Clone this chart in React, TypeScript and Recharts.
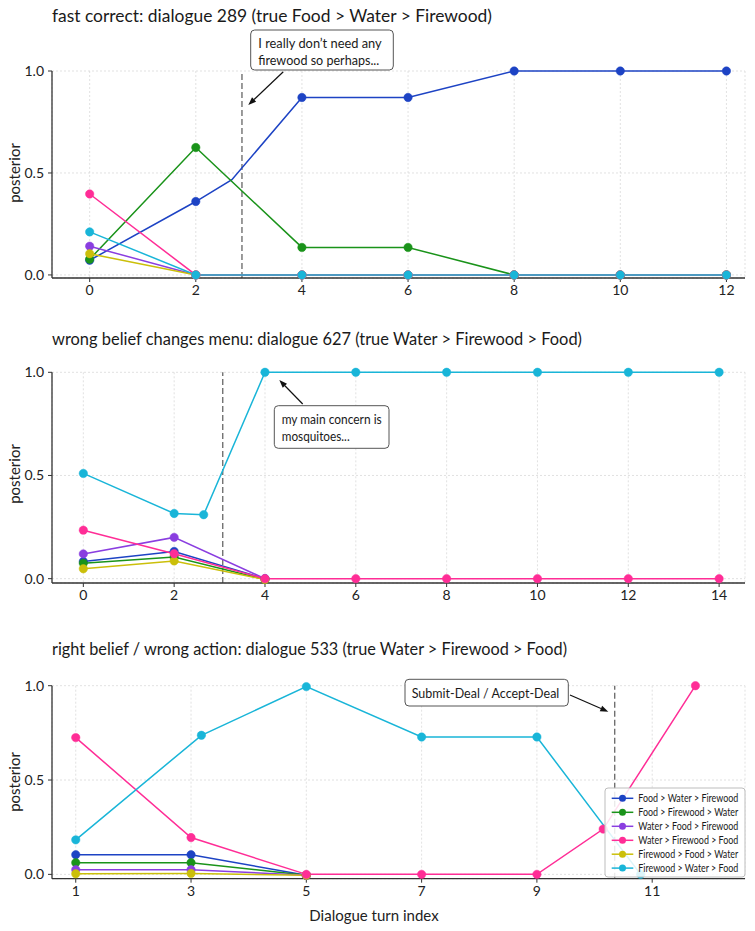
import React from 'react';
import { LineChart, Line, XAxis, YAxis, CartesianGrid, ReferenceLine } from 'recharts';

// ---------- series names ----------
const SERIES_NAMES = [
  'Food > Water > Firewood',
  'Food > Firewood > Water',
  'Water > Food > Firewood',
  'Water > Firewood > Food',
  'Firewood > Food > Water',
  'Firewood > Water > Food',
];

// ---------- panel 1: dialogue 289 ----------
const p1FoodWaterFirewood = [[0, 0.072], [2, 0.36], [2.68, 0.467], [4, 0.87], [6, 0.87], [8, 1.0], [10, 1.0], [12, 1.0]];
const p1FoodFirewoodWater = [[0, 0.077], [2, 0.625], [4, 0.135], [6, 0.135], [8, 0.0], [10, 0.0], [12, 0.0]];
const p1WaterFoodFirewood = [[0, 0.141], [2, 0.0], [4, 0.0], [6, 0.0], [8, 0.0], [10, 0.0], [12, 0.0]];
const p1WaterFirewoodFood = [[0, 0.397], [2, 0.0], [4, 0.0], [6, 0.0], [8, 0.0], [10, 0.0], [12, 0.0]];
const p1FirewoodFoodWater = [[0, 0.104], [2, 0.0], [4, 0.0], [6, 0.0], [8, 0.0], [10, 0.0], [12, 0.0]];
const p1FirewoodWaterFood = [[0, 0.211], [2, 0.0], [4, 0.0], [6, 0.0], [8, 0.0], [10, 0.0], [12, 0.0]];
const p1Bends = [2.68];
const p1XTicks = [0, 2, 4, 6, 8, 10, 12];
const p1Marker = 2.87;

// ---------- panel 2: dialogue 627 ----------
const p2FoodWaterFirewood = [[0, 0.083], [2, 0.132], [4, 0.0]];
const p2FoodFirewoodWater = [[0, 0.075], [2, 0.105], [4, -0.004]];
const p2WaterFoodFirewood = [[0, 0.12], [2, 0.2], [4, 0.0]];
const p2WaterFirewoodFood = [[0, 0.235], [2, 0.121], [4, 0.0], [6, 0.0], [8, 0.0], [10, 0.0], [12, 0.0], [14, 0.0]];
const p2FirewoodFoodWater = [[0, 0.048], [2, 0.086], [4, -0.004]];
const p2FirewoodWaterFood = [[0, 0.51], [2, 0.316], [2.65, 0.31], [4, 1.0], [6, 1.0], [8, 1.0], [10, 1.0], [12, 1.0], [14, 1.0]];
const p2Bends: number[] = [];
const p2XTicks = [0, 2, 4, 6, 8, 10, 12, 14];
const p2Marker = 3.07;

// ---------- panel 3: dialogue 533 ----------
const p3FoodWaterFirewood = [[1, 0.104], [3, 0.104], [5, -0.005]];
const p3FoodFirewoodWater = [[1, 0.062], [3, 0.062], [5, -0.005]];
const p3WaterFoodFirewood = [[1, 0.025], [3, 0.025], [5, -0.005]];
const p3WaterFirewoodFood = [[1, 0.725], [3, 0.195], [5, 0.0], [7, 0.0], [9, 0.0], [10.15, 0.24], [11.75, 1.0]];
const p3FirewoodFoodWater = [[1, 0.003], [3, 0.005], [5, -0.005]];
const p3FirewoodWaterFood = [[1, 0.183], [3.18, 0.737], [5, 0.995], [7, 0.728], [9, 0.728], [10.8, 0.0]];
const p3Bends: number[] = [];
const p3XTicks = [1, 3, 5, 7, 9, 11];
const p3Marker = 10.35;

const Y_TICKS = [0, 0.5, 1.0];

const TITLES = [
  'fast correct: dialogue 289 (true Food > Water > Firewood)',
  'wrong belief changes menu: dialogue 627 (true Water > Firewood > Food)',
  'right belief / wrong action: dialogue 533 (true Water > Firewood > Food)',
];
const NOTE1 = ['I really don’t need any', 'firewood so perhaps...'];
const NOTE2 = ['my main concern is', 'mosquitoes...'];
const NOTE3 = 'Submit-Deal / Accept-Deal';

const COLORS = ['#1d43c4', '#1a931a', '#8a3ee0', '#ff2d96', '#cbbf0a', '#19b5d8'];
// drawing order: blue, green, purple, yellow, pink, cyan
const DRAW_ORDER = [0, 1, 2, 4, 3, 5];

const FONT = "Lato, 'Open Sans', 'Noto Sans', sans-serif";

const toRows = (pts: number[][]) => pts.map(([x, y]) => ({ x, y }));

const makeDot = (color: string, bends: number[]) => (props: any) => {
  const { cx, cy, payload, index } = props;
  if (cx == null || cy == null || bends.includes(payload.x)) return <g key={`b-${index}`} />;
  return <circle key={`d-${index}`} cx={cx} cy={cy} r={4.2} fill={color} stroke={color} strokeWidth={0.5} />;
};

type PanelProps = {
  top: number;
  height: number;
  marginTop: number;
  marginBottom: number;
  xDomain: [number, number];
  yDomain: [number, number];
  xTicks: number[];
  series: number[][][];
  bends: number[];
  marker: number;
};

const Panel = ({ top, height, marginTop, marginBottom, xDomain, yDomain, xTicks, series, bends, marker }: PanelProps) => (
  <div style={{ position: 'absolute', left: 0, top, width: 755, height }}>
    <LineChart width={755} height={height} margin={{ top: marginTop, right: 10, bottom: marginBottom, left: 0 }}>
      <CartesianGrid stroke="#d9d9d9" strokeDasharray="2 2" strokeWidth={0.8} />
      <XAxis
        dataKey="x"
        type="number"
        domain={xDomain}
        ticks={xTicks}
        height={25}
        tickSize={4}
        tickMargin={3}
        axisLine={{ stroke: '#333', strokeWidth: 1.3 }}
        tickLine={{ stroke: '#333' }}
        tick={{ fill: '#222', fontSize: 14, fontFamily: FONT }}
        interval={0}
      />
      <YAxis
        type="number"
        domain={yDomain}
        ticks={Y_TICKS}
        width={52}
        tickSize={4}
        tickMargin={4}
        axisLine={{ stroke: '#333', strokeWidth: 1.3 }}
        tickLine={{ stroke: '#333' }}
        tick={{ fill: '#222', fontSize: 14, fontFamily: FONT }}
        tickFormatter={(v: number) => v.toFixed(1)}
        interval={0}
      />
      <ReferenceLine x={marker} stroke="#666" strokeDasharray="6 3" strokeWidth={1.3} />
      {DRAW_ORDER.map((i) => (
        <Line
          key={SERIES_NAMES[i]}
          data={toRows(series[i])}
          dataKey="y"
          name={SERIES_NAMES[i]}
          type="linear"
          stroke={COLORS[i]}
          strokeWidth={1.5}
          dot={makeDot(COLORS[i], bends)}
          activeDot={false}
          isAnimationActive={false}
        />
      ))}
    </LineChart>
  </div>
);

const yLabelStyle = (cy: number): React.CSSProperties => ({
  position: 'absolute',
  left: 14,
  top: cy,
  transform: 'translate(-50%, -50%) rotate(-90deg)',
  fontFamily: FONT,
  fontSize: 15,
  color: '#222',
  whiteSpace: 'nowrap',
});

const FitText = ({ x, y, w, size, children }: { x: number; y: number; w: number; size: number; children: string }) => (
  <text x={x} y={y} dominantBaseline="central" fontFamily={FONT} fontSize={size} fill="#1a1a1a" textLength={w} lengthAdjust="spacingAndGlyphs">
    {children}
  </text>
);

const Arrow = ({ x1, y1, x2, y2 }: { x1: number; y1: number; x2: number; y2: number }) => {
  const a = Math.atan2(y2 - y1, x2 - x1);
  const L = 8;
  const W = 3;
  const bx = x2 - L * Math.cos(a);
  const by = y2 - L * Math.sin(a);
  const px = -Math.sin(a) * W;
  const py = Math.cos(a) * W;
  return (
    <g>
      <line x1={x1} y1={y1} x2={bx} y2={by} stroke="#111" strokeWidth={1.2} />
      <polygon points={`${x2},${y2} ${bx + px},${by + py} ${bx - px},${by - py}`} fill="#111" />
    </g>
  );
};

export default function App() {
  const p1 = [p1FoodWaterFirewood, p1FoodFirewoodWater, p1WaterFoodFirewood, p1WaterFirewoodFood, p1FirewoodFoodWater, p1FirewoodWaterFood];
  const p2 = [p2FoodWaterFirewood, p2FoodFirewoodWater, p2WaterFoodFirewood, p2WaterFirewoodFood, p2FirewoodFoodWater, p2FirewoodWaterFood];
  const p3 = [p3FoodWaterFirewood, p3FoodFirewoodWater, p3WaterFoodFirewood, p3WaterFirewoodFood, p3FirewoodFoodWater, p3FirewoodWaterFood];
  const legendRows = [798.3, 812.3, 826.3, 840.3, 854.2, 868.1];
  return (
    <div style={{ position: 'absolute', left: 0, top: 0, width: 755, height: 931, background: '#fff', overflow: 'hidden' }}>
      <Panel top={0} height={305} marginTop={71} marginBottom={2} xDomain={[-0.71, 12.35]} yDomain={[-0.015, 1]} xTicks={p1XTicks} series={p1} bends={p1Bends} marker={p1Marker} />
      <Panel top={305} height={310} marginTop={67.3} marginBottom={7} xDomain={[-0.69, 14.57]} yDomain={[-0.021, 1]} xTicks={p2XTicks} series={p2} bends={p2Bends} marker={p2Marker} />
      <Panel top={615} height={316} marginTop={70.7} marginBottom={27.3} xDomain={[0.588, 12.61]} yDomain={[-0.023, 1]} xTicks={p3XTicks} series={p3} bends={p3Bends} marker={p3Marker} />

      <div style={yLabelStyle(172.5)}>posterior</div>
      <div style={yLabelStyle(474)}>posterior</div>
      <div style={yLabelStyle(782)}>posterior</div>

      <div style={{ position: 'absolute', left: 374, top: 915, transform: 'translate(-50%, -50%)', fontFamily: FONT, fontSize: 15, color: '#222', whiteSpace: 'nowrap' }}>
        Dialogue turn index
      </div>

      <svg width={755} height={931} style={{ position: 'absolute', left: 0, top: 0, pointerEvents: 'none' }}>
        {/* titles */}
        <FitText x={52} y={15} w={440} size={17.5}>{TITLES[0]}</FitText>
        <FitText x={52} y={338} w={530} size={17.5}>{TITLES[1]}</FitText>
        <FitText x={52} y={648} w={515} size={17.5}>{TITLES[2]}</FitText>

        {/* panel 1 annotation */}
        <rect x={250.7} y={30} width={142.6} height={40} rx={4} fill="#fff" stroke="#555" strokeWidth={1} />
        <FitText x={258.3} y={43.3} w={123.4} size={13}>{NOTE1[0]}</FitText>
        <FitText x={258.3} y={60} w={121} size={13}>{NOTE1[1]}</FitText>
        <Arrow x1={283.3} y1={71.7} x2={248.3} y2={105} />

        {/* panel 2 annotation */}
        <rect x={274.3} y={405.7} width={114.7} height={42.6} rx={4} fill="#fff" stroke="#555" strokeWidth={1} />
        <FitText x={281.7} y={419.3} w={100} size={12.5}>{NOTE2[0]}</FitText>
        <FitText x={281.7} y={436.7} w={68} size={12.5}>{NOTE2[1]}</FitText>
        <Arrow x1={302.7} y1={404} x2={279.3} y2={380} />

        {/* panel 3 annotation */}
        <rect x={405} y={679.3} width={163.3} height={26.7} rx={4} fill="#fff" stroke="#555" strokeWidth={1} />
        <FitText x={411.7} y={692.7} w={147.6} size={13}>{NOTE3}</FitText>
        <Arrow x1={570} y1={695} x2={608.3} y2={711.7} />

        {/* legend */}
        <rect x={605} y={788} width={140} height={89} rx={3} fill="rgba(255,255,255,0.85)" stroke="#bdbdbd" strokeWidth={1} />
        {SERIES_NAMES.map((name, i) => (
          <g key={name}>
            <line x1={611.7} x2={633.3} y1={legendRows[i]} y2={legendRows[i]} stroke={COLORS[i]} strokeWidth={1.5} />
            <circle cx={622.5} cy={legendRows[i]} r={3.5} fill={COLORS[i]} />
            <FitText x={638.3} y={legendRows[i]} w={100} size={10.5}>{name}</FitText>
          </g>
        ))}
      </svg>
    </div>
  );
}
